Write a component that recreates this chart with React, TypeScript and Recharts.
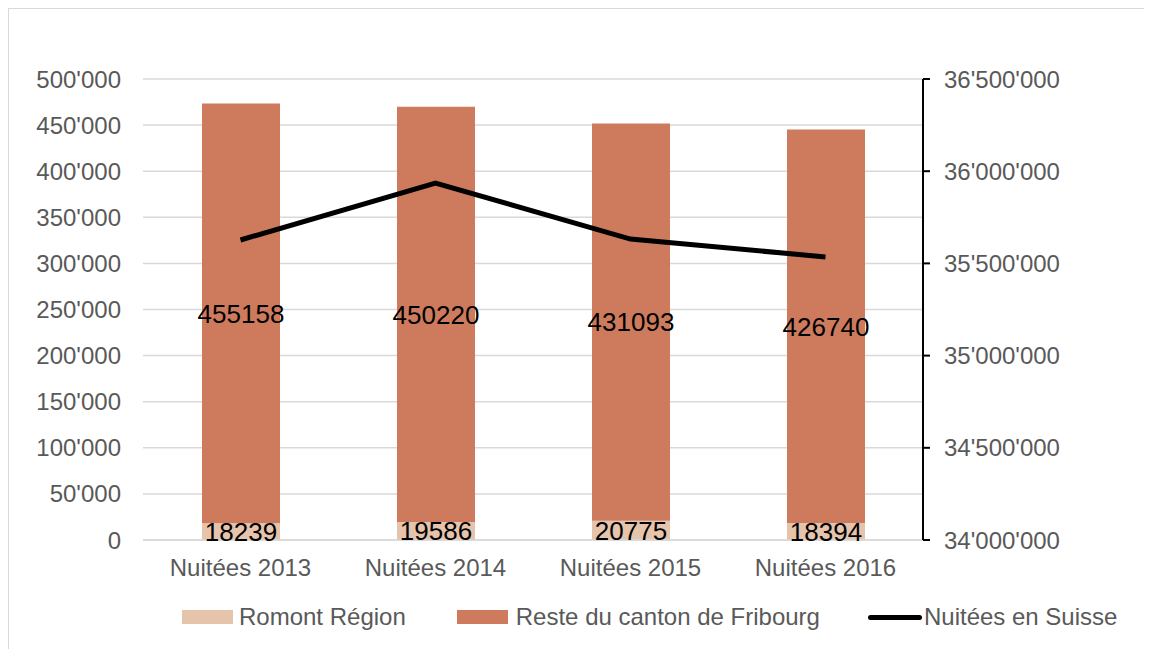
import React from 'react';
import {
  ComposedChart,
  Bar,
  Line,
  XAxis,
  YAxis,
  CartesianGrid,
  Legend,
  LabelList,
} from 'recharts';

const categories = ['Nuitées 2013', 'Nuitées 2014', 'Nuitées 2015', 'Nuitées 2016'];
const romontRegion = [18239, 19586, 20775, 18394];
const resteCanton = [455158, 450220, 431093, 426740];
const nuiteesSuisse = [35627000, 35936000, 35632000, 35535000];

const leftTicks = [0, 50000, 100000, 150000, 200000, 250000, 300000, 350000, 400000, 450000, 500000];
const rightTicks = [34000000, 34500000, 35000000, 35500000, 36000000, 36500000];

const FONT = '"Liberation Sans", Arial, sans-serif';
const GREY = '#595959';
const LIGHT = '#E6C4AC';
const DARK = '#CD7B5C';

const data = categories.map((name, i) => ({
  name,
  romont: romontRegion[i],
  reste: resteCanton[i],
  suisse: nuiteesSuisse[i],
}));

// swiss style thousands separator
const fmt = (v: number) => String(v).replace(/\B(?=(\d{3})+(?!\d))/g, "'");

const LegendContent = () => {
  const item = { display: 'flex', alignItems: 'center' } as const;
  return (
    <div
      style={{
        display: 'flex',
        alignItems: 'center',
        paddingTop: 15,
        paddingLeft: 173,
        fontFamily: FONT,
        fontSize: 24,
        lineHeight: '24px',
        color: GREY,
      }}
    >
      <div style={item}>
        <span style={{ width: 51, height: 14, background: LIGHT, marginRight: 6 }} />
        <span>Romont Région</span>
      </div>
      <div style={{ ...item, marginLeft: 51 }}>
        <span style={{ width: 51, height: 14, background: DARK, marginRight: 8 }} />
        <span>Reste du canton de Fribourg</span>
      </div>
      <div style={{ ...item, marginLeft: 48 }}>
        <span style={{ width: 54, height: 5, background: '#000', borderRadius: 3, marginRight: 2 }} />
        <span>Nuitées en Suisse</span>
      </div>
    </div>
  );
};

export default function App() {
  return (
    <div
      style={{
        width: 1136,
        height: 641,
        borderLeft: '1px solid #d9d9d9',
        borderTop: '1px solid #d9d9d9',
        boxSizing: 'border-box',
        background: '#fff',
      }}
    >
      <ComposedChart
        width={1135}
        height={640}
        data={data}
        margin={{ top: 70, right: 0, bottom: 0, left: 0 }}
        style={{ fontFamily: FONT }}
      >
        <CartesianGrid yAxisId="left" vertical={false} stroke="#d9d9d9" strokeWidth={1.5} />
        <XAxis
          dataKey="name"
          height={50}
          tickLine={false}
          tickMargin={13}
          axisLine={{ stroke: '#d9d9d9', strokeWidth: 1.5 }}
          tick={{ fill: GREY, fontSize: 24 }}
        />
        <YAxis
          yAxisId="left"
          width={134}
          domain={[0, 500000]}
          ticks={leftTicks}
          tickFormatter={fmt}
          axisLine={false}
          tickLine={false}
          tickMargin={16}
          tick={{ fill: GREY, fontSize: 24 }}
        />
        <YAxis
          yAxisId="right"
          orientation="right"
          width={221}
          domain={[34000000, 36500000]}
          ticks={rightTicks}
          tickFormatter={fmt}
          axisLine={{ stroke: '#000', strokeWidth: 2 }}
          tickLine={{ stroke: '#000', strokeWidth: 2 }}
          tickSize={7}
          tickMargin={14}
          tick={{ fill: GREY, fontSize: 24 }}
        />
        <Legend verticalAlign="bottom" height={59} content={<LegendContent />} />
        <Bar yAxisId="left" dataKey="romont" stackId="a" fill={LIGHT} barSize={78} isAnimationActive={false}>
          <LabelList dataKey="romont" position="center" fill="#000" fontSize={26} />
        </Bar>
        <Bar yAxisId="left" dataKey="reste" stackId="a" fill={DARK} barSize={78} isAnimationActive={false}>
          <LabelList dataKey="reste" position="center" fill="#000" fontSize={26} />
        </Bar>
        <Line
          yAxisId="right"
          dataKey="suisse"
          stroke="#000"
          strokeWidth={5}
          dot={false}
          activeDot={false}
          isAnimationActive={false}
        />
      </ComposedChart>
    </div>
  );
}
